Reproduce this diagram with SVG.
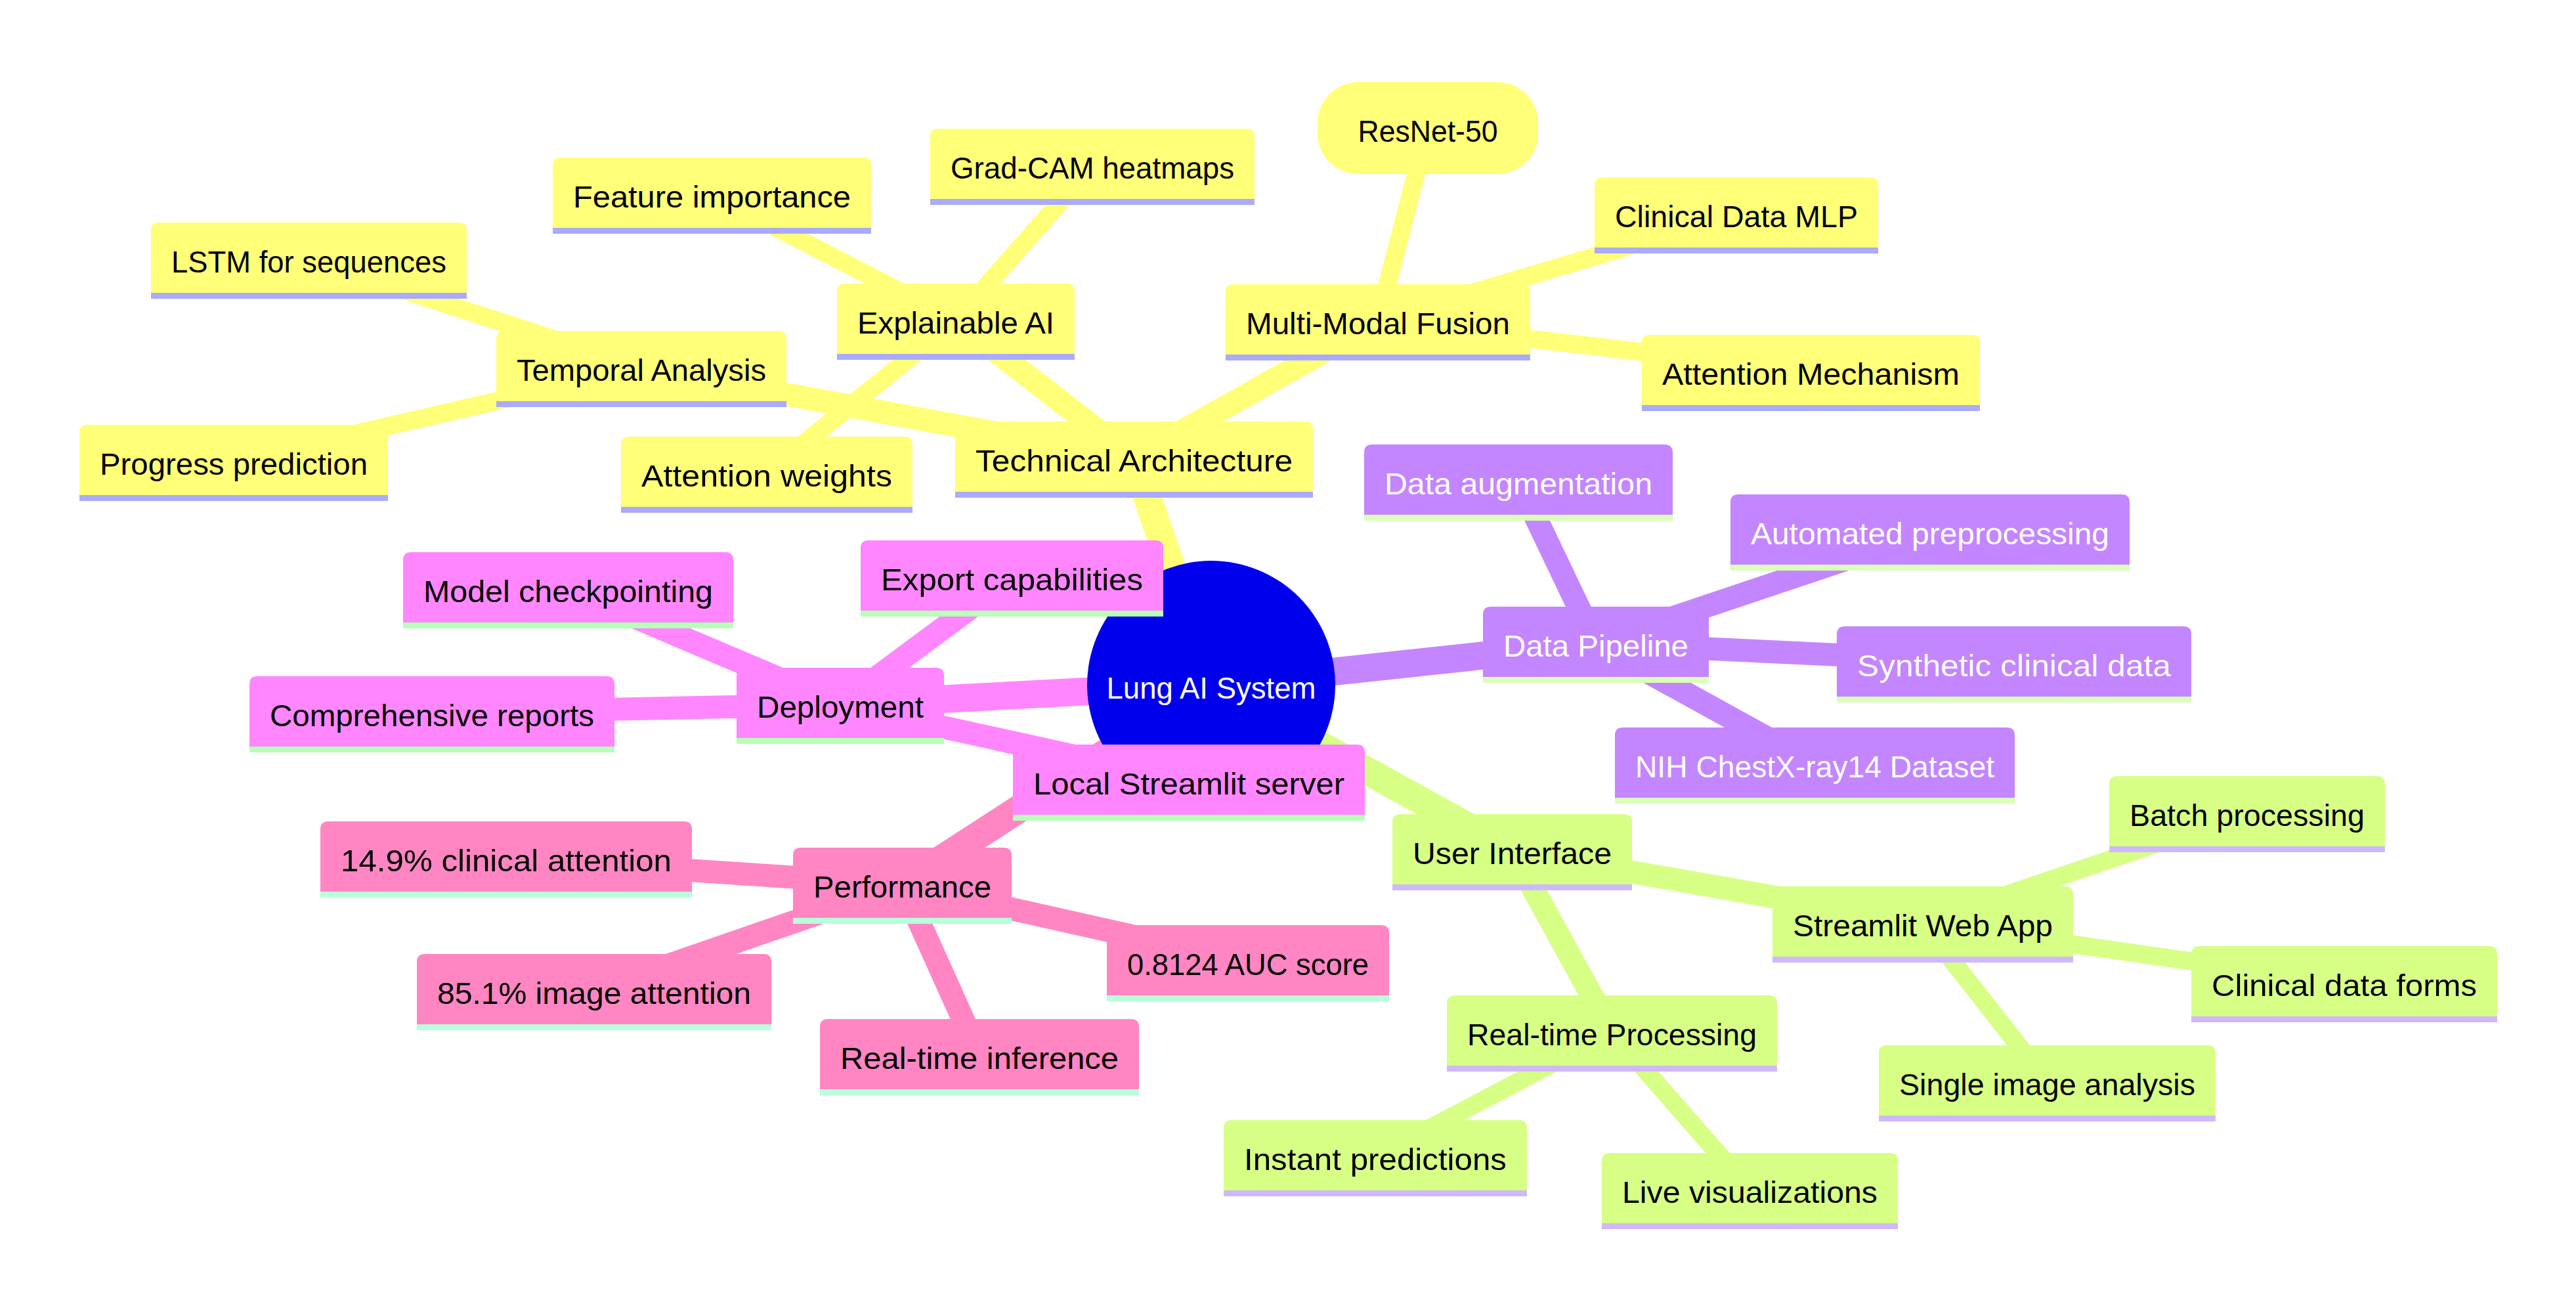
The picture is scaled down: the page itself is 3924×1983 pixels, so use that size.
<svg xmlns="http://www.w3.org/2000/svg" width="3924" height="1983" viewBox="0 0 3924 1983">
<style>
text{font-family:"Liberation Sans",Arial,sans-serif;font-size:47px;text-anchor:middle}
.s0 path,.s0 rect{fill:#ffff78}.s0 line{stroke:#aaaaff}.s0 text{fill:#000}
.s1 path{fill:#d7ff86}.s1 line{stroke:#cfb8ff}.s1 text{fill:#000}
.s2 path{fill:#c386ff}.s2 line{stroke:#dbffb8}.s2 text{fill:#fff}
.s3 path{fill:#ff86ff}.s3 line{stroke:#b8ffb8}.s3 text{fill:#000}
.s4 path{fill:#ff86c3}.s4 line{stroke:#b8ffdb}.s4 text{fill:#000}
.node line{stroke-width:9}
.edges path{fill:none}
.e0{stroke:#ffff78}.e1{stroke:#d7ff86}.e2{stroke:#c386ff}.e3{stroke:#ff86ff}.e4{stroke:#ff86c3}
.d0{stroke-width:42.5}.d1{stroke-width:35}.d2{stroke-width:27.5}
</style>
<rect width="3924" height="1983" fill="#ffffff"/>
<g class="edges">
<path class="e0 d0" d="M1845,1043 L1727.5,698"/>
<path class="e1 d0" d="M1845,1043 L2303.5,1296"/>
<path class="e2 d0" d="M1845,1043 L2431,980"/>
<path class="e3 d0" d="M1845,1043 L1280,1073"/>
<path class="e4 d0" d="M1845,1043 L1374.5,1347"/>
<path class="e0 d1" d="M1727.5,698 L2099,489"/>
<path class="e0 d1" d="M1727.5,698 L1456,488"/>
<path class="e0 d1" d="M1727.5,698 L977,560"/>
<path class="e0 d2" d="M2099,489 L2175,195"/>
<path class="e0 d2" d="M2099,489 L2645,326"/>
<path class="e0 d2" d="M2099,489 L2758.5,566"/>
<path class="e0 d2" d="M1456,488 L1664,252"/>
<path class="e0 d2" d="M1456,488 L1084.5,296"/>
<path class="e0 d2" d="M1456,488 L1168,721"/>
<path class="e0 d2" d="M977,560 L470.5,395"/>
<path class="e0 d2" d="M977,560 L356,703"/>
<path class="e1 d1" d="M2303.5,1296 L2929,1406"/>
<path class="e1 d1" d="M2303.5,1296 L2455.5,1572"/>
<path class="e1 d2" d="M2929,1406 L3423,1238"/>
<path class="e1 d2" d="M2929,1406 L3571,1497"/>
<path class="e1 d2" d="M2929,1406 L3118.5,1648"/>
<path class="e1 d2" d="M2455.5,1572 L2095,1762"/>
<path class="e1 d2" d="M2455.5,1572 L2665.5,1812"/>
<path class="e2 d1" d="M2431,980 L2313,733"/>
<path class="e2 d1" d="M2431,980 L2940,809"/>
<path class="e2 d1" d="M2431,980 L3068,1010"/>
<path class="e2 d1" d="M2431,980 L2764.5,1164"/>
<path class="e3 d1" d="M1280,1073 L865.5,897"/>
<path class="e3 d1" d="M1280,1073 L1541.5,879"/>
<path class="e3 d1" d="M1280,1073 L658,1086"/>
<path class="e3 d1" d="M1280,1073 L1811,1190"/>
<path class="e4 d1" d="M1374.5,1347 L771,1307"/>
<path class="e4 d1" d="M1374.5,1347 L905,1509"/>
<path class="e4 d1" d="M1374.5,1347 L1492,1608"/>
<path class="e4 d1" d="M1374.5,1347 L1901,1465"/>
</g>
<g id="root"><circle cx="1845" cy="1043" r="189" fill="#0000ec"/><text x="1845" y="1064" fill="#ffffff" textLength="319" lengthAdjust="spacingAndGlyphs">Lung AI System</text></g>
<g id="n-techarch" class="node s0" transform="translate(1455,642)"><path d="M0,112V12Q0,0 12,0H533Q545,0 545,12V112Z"/><line x1="0" y1="111.5" x2="545" y2="111.5"/><text x="272.5" y="76" textLength="483" lengthAdjust="spacingAndGlyphs">Technical Architecture</text></g>
<g id="n-mmf" class="node s0" transform="translate(1867,433)"><path d="M0,112V12Q0,0 12,0H452Q464,0 464,12V112Z"/><line x1="0" y1="111.5" x2="464" y2="111.5"/><text x="232" y="76" textLength="402" lengthAdjust="spacingAndGlyphs">Multi-Modal Fusion</text></g>
<g id="n-eai" class="node s0" transform="translate(1275,432)"><path d="M0,112V12Q0,0 12,0H350Q362,0 362,12V112Z"/><line x1="0" y1="111.5" x2="362" y2="111.5"/><text x="181" y="76" textLength="300" lengthAdjust="spacingAndGlyphs">Explainable AI</text></g>
<g id="n-temporal" class="node s0" transform="translate(756,504)"><path d="M0,112V12Q0,0 12,0H430Q442,0 442,12V112Z"/><line x1="0" y1="111.5" x2="442" y2="111.5"/><text x="221" y="76" textLength="380" lengthAdjust="spacingAndGlyphs">Temporal Analysis</text></g>
<g id="n-resnet" class="node s0" transform="translate(2007,125)"><rect x="0" y="0" width="336" height="140" rx="62" ry="62"/><text x="168" y="91" textLength="213" lengthAdjust="spacingAndGlyphs">ResNet-50</text></g>
<g id="n-cdmlp" class="node s0" transform="translate(2429,270)"><path d="M0,112V12Q0,0 12,0H420Q432,0 432,12V112Z"/><line x1="0" y1="111.5" x2="432" y2="111.5"/><text x="216" y="76" textLength="370" lengthAdjust="spacingAndGlyphs">Clinical Data MLP</text></g>
<g id="n-attnmech" class="node s0" transform="translate(2501,510)"><path d="M0,112V12Q0,0 12,0H503Q515,0 515,12V112Z"/><line x1="0" y1="111.5" x2="515" y2="111.5"/><text x="257.5" y="76" textLength="453" lengthAdjust="spacingAndGlyphs">Attention Mechanism</text></g>
<g id="n-gradcam" class="node s0" transform="translate(1417,196)"><path d="M0,112V12Q0,0 12,0H482Q494,0 494,12V112Z"/><line x1="0" y1="111.5" x2="494" y2="111.5"/><text x="247" y="76" textLength="432" lengthAdjust="spacingAndGlyphs">Grad-CAM heatmaps</text></g>
<g id="n-featimp" class="node s0" transform="translate(842,240)"><path d="M0,112V12Q0,0 12,0H473Q485,0 485,12V112Z"/><line x1="0" y1="111.5" x2="485" y2="111.5"/><text x="242.5" y="76" textLength="423" lengthAdjust="spacingAndGlyphs">Feature importance</text></g>
<g id="n-attnw" class="node s0" transform="translate(946,665)"><path d="M0,112V12Q0,0 12,0H432Q444,0 444,12V112Z"/><line x1="0" y1="111.5" x2="444" y2="111.5"/><text x="222" y="76" textLength="382" lengthAdjust="spacingAndGlyphs">Attention weights</text></g>
<g id="n-lstm" class="node s0" transform="translate(230,339)"><path d="M0,112V12Q0,0 12,0H469Q481,0 481,12V112Z"/><line x1="0" y1="111.5" x2="481" y2="111.5"/><text x="240.5" y="76" textLength="419" lengthAdjust="spacingAndGlyphs">LSTM for sequences</text></g>
<g id="n-progress" class="node s0" transform="translate(121,647)"><path d="M0,112V12Q0,0 12,0H458Q470,0 470,12V112Z"/><line x1="0" y1="111.5" x2="470" y2="111.5"/><text x="235" y="76" textLength="408" lengthAdjust="spacingAndGlyphs">Progress prediction</text></g>
<g id="n-ui" class="node s1" transform="translate(2121,1240)"><path d="M0,112V12Q0,0 12,0H353Q365,0 365,12V112Z"/><line x1="0" y1="111.5" x2="365" y2="111.5"/><text x="182.5" y="76" textLength="303" lengthAdjust="spacingAndGlyphs">User Interface</text></g>
<g id="n-swa" class="node s1" transform="translate(2700,1350)"><path d="M0,112V12Q0,0 12,0H446Q458,0 458,12V112Z"/><line x1="0" y1="111.5" x2="458" y2="111.5"/><text x="229" y="76" textLength="396" lengthAdjust="spacingAndGlyphs">Streamlit Web App</text></g>
<g id="n-rtp" class="node s1" transform="translate(2204,1516)"><path d="M0,112V12Q0,0 12,0H491Q503,0 503,12V112Z"/><line x1="0" y1="111.5" x2="503" y2="111.5"/><text x="251.5" y="76" textLength="441" lengthAdjust="spacingAndGlyphs">Real-time Processing</text></g>
<g id="n-batch" class="node s1" transform="translate(3213,1182)"><path d="M0,112V12Q0,0 12,0H408Q420,0 420,12V112Z"/><line x1="0" y1="111.5" x2="420" y2="111.5"/><text x="210" y="76" textLength="358" lengthAdjust="spacingAndGlyphs">Batch processing</text></g>
<g id="n-cdf" class="node s1" transform="translate(3338,1441)"><path d="M0,112V12Q0,0 12,0H454Q466,0 466,12V112Z"/><line x1="0" y1="111.5" x2="466" y2="111.5"/><text x="233" y="76" textLength="404" lengthAdjust="spacingAndGlyphs">Clinical data forms</text></g>
<g id="n-sia" class="node s1" transform="translate(2862,1592)"><path d="M0,112V12Q0,0 12,0H501Q513,0 513,12V112Z"/><line x1="0" y1="111.5" x2="513" y2="111.5"/><text x="256.5" y="76" textLength="451" lengthAdjust="spacingAndGlyphs">Single image analysis</text></g>
<g id="n-instant" class="node s1" transform="translate(1864,1706)"><path d="M0,112V12Q0,0 12,0H450Q462,0 462,12V112Z"/><line x1="0" y1="111.5" x2="462" y2="111.5"/><text x="231" y="76" textLength="400" lengthAdjust="spacingAndGlyphs">Instant predictions</text></g>
<g id="n-liveviz" class="node s1" transform="translate(2440,1756)"><path d="M0,112V12Q0,0 12,0H439Q451,0 451,12V112Z"/><line x1="0" y1="111.5" x2="451" y2="111.5"/><text x="225.5" y="76" textLength="389" lengthAdjust="spacingAndGlyphs">Live visualizations</text></g>
<g id="n-datapipe" class="node s2" transform="translate(2259,924)"><path d="M0,112V12Q0,0 12,0H332Q344,0 344,12V112Z"/><line x1="0" y1="111.5" x2="344" y2="111.5"/><text x="172" y="76" textLength="282" lengthAdjust="spacingAndGlyphs">Data Pipeline</text></g>
<g id="n-dataaug" class="node s2" transform="translate(2078,677)"><path d="M0,112V12Q0,0 12,0H458Q470,0 470,12V112Z"/><line x1="0" y1="111.5" x2="470" y2="111.5"/><text x="235" y="76" textLength="408" lengthAdjust="spacingAndGlyphs">Data augmentation</text></g>
<g id="n-autopre" class="node s2" transform="translate(2636,753)"><path d="M0,112V12Q0,0 12,0H596Q608,0 608,12V112Z"/><line x1="0" y1="111.5" x2="608" y2="111.5"/><text x="304" y="76" textLength="546" lengthAdjust="spacingAndGlyphs">Automated preprocessing</text></g>
<g id="n-synclin" class="node s2" transform="translate(2798,954)"><path d="M0,112V12Q0,0 12,0H528Q540,0 540,12V112Z"/><line x1="0" y1="111.5" x2="540" y2="111.5"/><text x="270" y="76" textLength="478" lengthAdjust="spacingAndGlyphs">Synthetic clinical data</text></g>
<g id="n-nih" class="node s2" transform="translate(2460,1108)"><path d="M0,112V12Q0,0 12,0H597Q609,0 609,12V112Z"/><line x1="0" y1="111.5" x2="609" y2="111.5"/><text x="304.5" y="76" textLength="547" lengthAdjust="spacingAndGlyphs">NIH ChestX-ray14 Dataset</text></g>
<g id="n-deploy" class="node s3" transform="translate(1122,1017)"><path d="M0,112V12Q0,0 12,0H304Q316,0 316,12V112Z"/><line x1="0" y1="111.5" x2="316" y2="111.5"/><text x="158" y="76" textLength="254" lengthAdjust="spacingAndGlyphs">Deployment</text></g>
<g id="n-modelck" class="node s3" transform="translate(614,841)"><path d="M0,112V12Q0,0 12,0H491Q503,0 503,12V112Z"/><line x1="0" y1="111.5" x2="503" y2="111.5"/><text x="251.5" y="76" textLength="441" lengthAdjust="spacingAndGlyphs">Model checkpointing</text></g>
<g id="n-export" class="node s3" transform="translate(1311,823)"><path d="M0,112V12Q0,0 12,0H449Q461,0 461,12V112Z"/><line x1="0" y1="111.5" x2="461" y2="111.5"/><text x="230.5" y="76" textLength="399" lengthAdjust="spacingAndGlyphs">Export capabilities</text></g>
<g id="n-comprep" class="node s3" transform="translate(380,1030)"><path d="M0,112V12Q0,0 12,0H544Q556,0 556,12V112Z"/><line x1="0" y1="111.5" x2="556" y2="111.5"/><text x="278" y="76" textLength="494" lengthAdjust="spacingAndGlyphs">Comprehensive reports</text></g>
<g id="n-localsl" class="node s3" transform="translate(1543,1134)"><path d="M0,112V12Q0,0 12,0H524Q536,0 536,12V112Z"/><line x1="0" y1="111.5" x2="536" y2="111.5"/><text x="268" y="76" textLength="474" lengthAdjust="spacingAndGlyphs">Local Streamlit server</text></g>
<g id="n-perf" class="node s4" transform="translate(1208,1291)"><path d="M0,112V12Q0,0 12,0H321Q333,0 333,12V112Z"/><line x1="0" y1="111.5" x2="333" y2="111.5"/><text x="166.5" y="76" textLength="271" lengthAdjust="spacingAndGlyphs">Performance</text></g>
<g id="n-clinatt" class="node s4" transform="translate(488,1251)"><path d="M0,112V12Q0,0 12,0H554Q566,0 566,12V112Z"/><line x1="0" y1="111.5" x2="566" y2="111.5"/><text x="283" y="76" textLength="504" lengthAdjust="spacingAndGlyphs">14.9% clinical attention</text></g>
<g id="n-imgatt" class="node s4" transform="translate(635,1453)"><path d="M0,112V12Q0,0 12,0H528Q540,0 540,12V112Z"/><line x1="0" y1="111.5" x2="540" y2="111.5"/><text x="270" y="76" textLength="478" lengthAdjust="spacingAndGlyphs">85.1% image attention</text></g>
<g id="n-rtinf" class="node s4" transform="translate(1249,1552)"><path d="M0,112V12Q0,0 12,0H474Q486,0 486,12V112Z"/><line x1="0" y1="111.5" x2="486" y2="111.5"/><text x="243" y="76" textLength="424" lengthAdjust="spacingAndGlyphs">Real-time inference</text></g>
<g id="n-auc" class="node s4" transform="translate(1686,1409)"><path d="M0,112V12Q0,0 12,0H418Q430,0 430,12V112Z"/><line x1="0" y1="111.5" x2="430" y2="111.5"/><text x="215" y="76" textLength="368" lengthAdjust="spacingAndGlyphs">0.8124 AUC score</text></g>
</svg>
